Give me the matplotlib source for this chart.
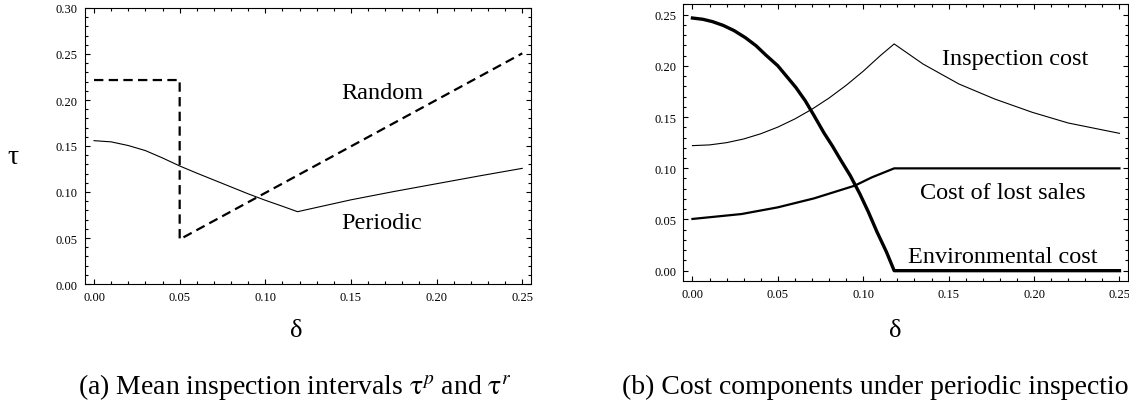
import numpy as np
import matplotlib.pyplot as plt
from matplotlib.ticker import MultipleLocator, FormatStrFormatter

plt.rcParams['font.family'] = ['Liberation Serif', 'DejaVu Serif']
plt.rcParams['mathtext.fontset'] = 'stix'

# (a) mean inspection intervals
per_x = [0.0, 0.01, 0.02, 0.03, 0.04, 0.05, 0.06, 0.07, 0.08, 0.09, 0.10, 0.11, 0.1188,
         0.15, 0.175, 0.20, 0.225, 0.25]
per_y = [0.1558, 0.1545, 0.1505, 0.1450, 0.1370, 0.1283, 0.1205, 0.1130, 0.1055, 0.0980,
         0.0910, 0.0845, 0.0786, 0.0915, 0.1005, 0.1090, 0.1175, 0.1257]
rnd_x = [0.0, 0.05, 0.05, 0.25]
rnd_y = [0.2217, 0.2217, 0.0485, 0.2507]

# (b) cost components
insp_x = [0.0, 0.01, 0.02, 0.03, 0.04, 0.05, 0.06, 0.07, 0.08, 0.09, 0.10, 0.11, 0.1181,
          0.135, 0.156, 0.177, 0.199, 0.220, 0.25]
insp_y = [0.1221, 0.1228, 0.1250, 0.1286, 0.1337, 0.1402, 0.1482, 0.1577, 0.1686, 0.1810,
          0.1948, 0.2100, 0.2214, 0.2018, 0.1823, 0.1676, 0.1546, 0.1442, 0.1341]
lost_x = [0.0, 0.0287, 0.0499, 0.0712, 0.095, 0.105, 0.1181, 0.25]
lost_y = [0.0505, 0.0553, 0.0618, 0.0706, 0.0830, 0.0911, 0.0999, 0.0999]
env_x = [0.0, 0.006, 0.0117, 0.018, 0.0244, 0.031, 0.0372, 0.043, 0.0499, 0.055, 0.0605,
         0.066, 0.0712, 0.077, 0.0818, 0.087, 0.0924, 0.098, 0.1030, 0.108, 0.1136,
         0.1181, 0.25]
env_y = [0.2467, 0.2455, 0.2432, 0.2395, 0.2344, 0.2275, 0.2197, 0.2105, 0.2002, 0.1900,
         0.1790, 0.1660, 0.1514, 0.1345, 0.1221, 0.1075, 0.0928, 0.0750, 0.0573, 0.0380,
         0.0182, 0.0, 0.0]

W, H = 1129, 402
fig = plt.figure(figsize=(W / 100, H / 100), dpi=100)


def px_axes(x0, y0, x1, y1):
    return fig.add_axes([x0 / W, 1 - y1 / H, (x1 - x0) / W, (y1 - y0) / H])


def style(ax):
    ax.xaxis.set_major_locator(MultipleLocator(0.05))
    ax.xaxis.set_minor_locator(MultipleLocator(0.01))
    ax.yaxis.set_major_locator(MultipleLocator(0.05))
    ax.yaxis.set_minor_locator(MultipleLocator(0.01))
    ax.xaxis.set_major_formatter(FormatStrFormatter('%.2f'))
    ax.yaxis.set_major_formatter(FormatStrFormatter('%.2f'))
    ax.tick_params(which='both', direction='in', top=True, right=True, labelsize=9, width=0.8)
    ax.tick_params(which='major', length=3.8, pad=5)
    ax.tick_params(which='minor', length=2.2)
    for s in ax.spines.values():
        s.set_linewidth(0.8)


ax1 = px_axes(84.6, 9, 531, 285)
ax1.plot(per_x, per_y, color='black', lw=0.8)
ax1.plot(rnd_x, rnd_y, color='black', lw=1.6, dashes=(4.2, 2.4))
ax1.set_xlim(-0.0055, 0.2551)
ax1.set_ylim(0, 0.30)
style(ax1)
ax1.text(0.1442, 0.2018, 'Random', fontsize=17.5, va='baseline')
ax1.text(0.1442, 0.0605, 'Periodic', fontsize=17.5, va='baseline')

ax2 = px_axes(683.4, 5, 1128, 281.7)
ax2.plot(insp_x, insp_y, color='black', lw=0.8)
ax2.plot(lost_x, lost_y, color='black', lw=1.6)
ax2.plot(env_x, env_y, color='black', lw=2.4)
ax2.set_xlim(-0.0053, 0.255)
ax2.set_ylim(-0.0098, 0.2604)
style(ax2)
ax2.text(0.1459, 0.2018, 'Inspection cost', fontsize=17.5, va='baseline')
ax2.text(0.1334, 0.0706, 'Cost of lost sales', fontsize=17.5, va='baseline')
ax2.text(0.1264, 0.0081, 'Environmental cost', fontsize=17.5, va='baseline')

fig.text(13 / W, 1 - 158 / H, 'τ', fontsize=20, ha='center', va='center')
fig.text(296 / W, 1 - 331 / H, 'δ', fontsize=19, ha='center', va='center')
fig.text(895 / W, 1 - 331 / H, 'δ', fontsize=19, ha='center', va='center')
fig.text(78 / W, 1 - 394 / H, r'(a) Mean inspection intervals $\mathrm{\tau}^{p}$ and $\mathrm{\tau}^{r}$',
         fontsize=20, ha='left', va='baseline')
fig.text(622 / W, 1 - 394 / H, '(b) Cost components under periodic inspection',
         fontsize=20, ha='left', va='baseline')

fig.savefig('out.png', dpi=100)
